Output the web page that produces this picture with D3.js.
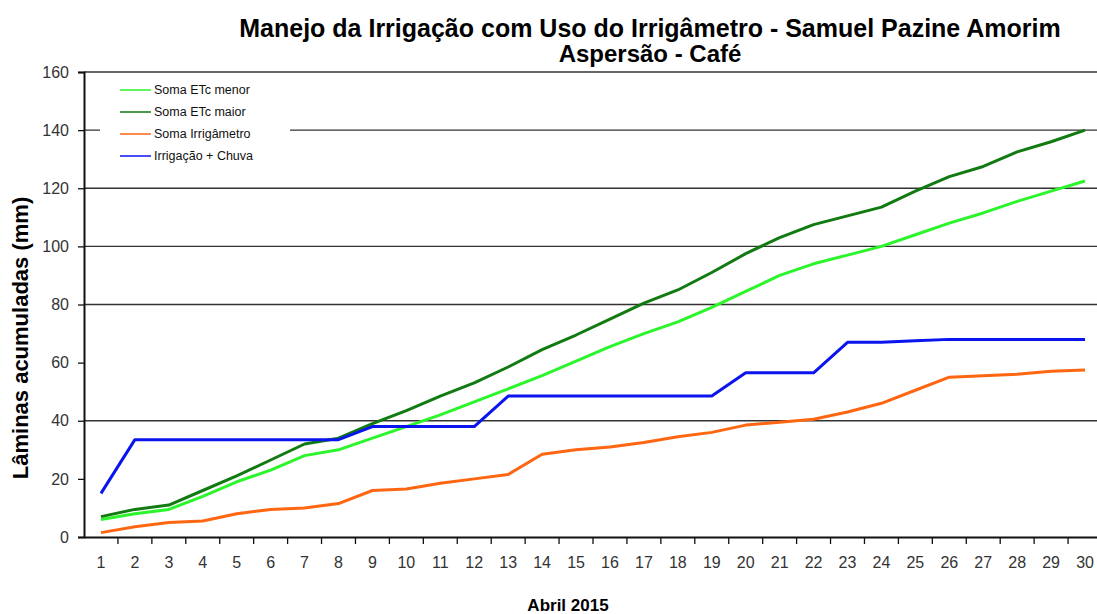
<!DOCTYPE html>
<html>
<head>
<meta charset="utf-8">
<script src="https://cdn.jsdelivr.net/npm/d3@7"></script>
<style>
  body { margin: 0; background: #fff; }
  text { font-family: "Liberation Sans", Arial, sans-serif; }
</style>
</head>
<body>
<div id="chart"></div>
<script>
// days of April 2015
const days = d3.range(1, 31);

const etcMenor = [6, 8, 9.5, 14, 19, 23, 28, 30, 34, 38, 42, 46.5, 51, 55.5, 60.5,
  65.5, 70, 74, 79, 84.5, 90, 94, 97, 100, 104, 108, 111.5, 115.5, 119, 122.5];
const etcMaior = [7, 9.5, 11, 16, 21, 26.5, 32, 34, 39, 43.5, 48.5, 53, 58.5, 64.5, 69.5,
  75, 80.5, 85, 91, 97.5, 103, 107.5, 110.5, 113.5, 119, 124, 127.5, 132.5, 136, 140];
const irrigametro = [1.5, 3.5, 5, 5.5, 8, 9.5, 10, 11.5, 16, 16.5, 18.5, 20, 21.5, 28.5, 30,
  31, 32.5, 34.5, 36, 38.5, 39.5, 40.5, 43, 46, 50.5, 55, 55.5, 56, 57, 57.5];
const irrigChuva = [15, 33.5, 33.5, 33.5, 33.5, 33.5, 33.5, 33.5, 38, 38, 38, 38, 48.5, 48.5, 48.5,
  48.5, 48.5, 48.5, 48.5, 56.5, 56.5, 56.5, 67, 67, 67.5, 68, 68, 68, 68, 68];

const yTicks = [0, 20, 40, 60, 80, 100, 120, 140, 160];
const gridValues = [40, 80, 100, 120, 140];

const series = [
  { name: "Soma ETc menor", values: etcMenor, color: "#2cf52c" },
  { name: "Soma ETc maior", values: etcMaior, color: "#117a11" },
  { name: "Soma Irrigâmetro", values: irrigametro, color: "#ff6611" },
  { name: "Irrigação + Chuva", values: irrigChuva, color: "#0a14ee" }
];

const width = 1097, height = 614;
const plot = { left: 84, right: 1102, top: 72, bottom: 537 };

const svg = d3.select("#chart").append("svg")
  .attr("width", width).attr("height", height);

const x = d3.scaleBand().domain(days).range([plot.left, plot.right]);
const y = d3.scaleLinear().domain([0, 160]).range([plot.bottom, plot.top]);

// grid lines
svg.append("g").selectAll("line").data(gridValues.concat([160])).join("line")
  .attr("x1", plot.left).attr("x2", width)
  .attr("y1", d => y(d)).attr("y2", d => y(d))
  .attr("stroke", "#333").attr("stroke-width", 1.3);

// y axis
const yAxis = svg.append("g")
  .attr("transform", `translate(${plot.left},0)`)
  .call(d3.axisLeft(y).tickValues(yTicks).tickSize(6).tickPadding(9));
yAxis.select(".domain").attr("stroke", "#111").attr("stroke-width", 2);
yAxis.selectAll(".tick line").attr("stroke", "#111").attr("stroke-width", 1.3);
yAxis.selectAll("text").attr("font-size", 16).attr("fill", "#333")
  .attr("font-family", "Liberation Sans, Arial, sans-serif");

// x axis, ticks between categories
const xAxis = svg.append("g")
  .attr("transform", `translate(0,${plot.bottom})`)
  .call(d3.axisBottom(x).tickSize(0).tickPadding(20));
xAxis.select(".domain").attr("stroke", "#111").attr("stroke-width", 2);
xAxis.selectAll("text").attr("font-size", 16).attr("fill", "#333")
  .attr("font-family", "Liberation Sans, Arial, sans-serif");
xAxis.selectAll(".sep").data(days.slice(1)).join("line")
  .attr("x1", d => x(d)).attr("x2", d => x(d))
  .attr("y1", 0).attr("y2", 7)
  .attr("stroke", "#111").attr("stroke-width", 1.3);

// series lines
const line = d3.line()
  .x((d, i) => x(days[i]) + x.bandwidth() / 2)
  .y(d => y(d));

svg.append("g").selectAll("path").data(series).join("path")
  .attr("d", d => line(d.values))
  .attr("fill", "none")
  .attr("stroke", d => d.color)
  .attr("stroke-width", 3)
  .attr("stroke-linejoin", "round");

// legend
const legend = svg.append("g");
legend.append("rect")
  .attr("x", 100).attr("y", 76).attr("width", 190).attr("height", 92)
  .attr("fill", "#fff");
const item = legend.selectAll("g").data(series).join("g")
  .attr("transform", (d, i) => `translate(120,${90 + i * 22})`);
item.append("line")
  .attr("x1", 0).attr("x2", 31)
  .attr("stroke", d => d.color).attr("stroke-width", 1.5);
item.append("text")
  .attr("x", 34).attr("dy", "0.35em")
  .attr("font-size", 12.5).attr("fill", "#111")
  .text(d => d.name);

// titles
svg.append("text")
  .attr("x", 650).attr("y", 37)
  .attr("text-anchor", "middle")
  .attr("font-size", 25).attr("font-weight", "bold")
  .text("Manejo da Irrigação com Uso do Irrigâmetro - Samuel Pazine Amorim");
svg.append("text")
  .attr("x", 650).attr("y", 62)
  .attr("text-anchor", "middle")
  .attr("font-size", 24).attr("font-weight", "bold")
  .text("Aspersão - Café");

svg.append("text")
  .attr("transform", "translate(28,338) rotate(-90)")
  .attr("text-anchor", "middle")
  .attr("font-size", 22).attr("font-weight", "bold")
  .text("Lâminas acumuladas (mm)");

svg.append("text")
  .attr("x", 568).attr("y", 611)
  .attr("text-anchor", "middle")
  .attr("font-size", 17).attr("font-weight", "bold")
  .text("Abril 2015");
</script>
</body>
</html>
